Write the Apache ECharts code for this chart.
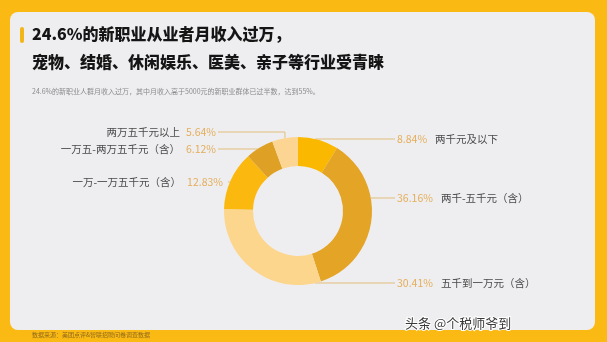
<!DOCTYPE html>
<html>
<head>
<meta charset="utf-8">
<script src="https://cdn.jsdelivr.net/npm/echarts@6/dist/echarts.min.js"></script>
<style>
html,body{margin:0;padding:0;background:#FBB914;}
#c{width:607px;height:342px;}
</style>
</head>
<body>
<div id="c"></div>
<script>
// ---- data ----
var categories = ['两千元及以下', '两千-五千元（含）', '五千到一万元（含）', '一万-一万五千元（含）', '一万五-两万五千元（含）', '两万五千元以上'];
var values = [8.84, 36.16, 30.41, 12.83, 6.12, 5.64];
var titleLines = ['24.6%的新职业从业者月收入过万，', '宠物、结婚、休闲娱乐、医美、亲子等行业受青睐'];
var subtitle = '24.6%的新职业人群月收入过万，其中月收入高于5000元的新职业群体已过半数，达到55%。';
var source = '数据来源：美团点评&智联招聘问卷调查数据';
var watermark = '头条 @个税师爷到';

// ---- layout / style ----
var CX = 298, CY = 211, R0 = 45, R1 = 74;
var colors = ['#FBB800', '#E4A426', '#FDD68E', '#FBB80E', '#DFA125', '#FDD592'];
var side = ['right', 'right', 'right', 'left', 'left', 'left'];
var labelY = [139, 198, 283, 182, 149, 132];
var lineEndX = [395, 395, 395, 228, 218, 218];
var textX = [397, 397, 397, 223, 216, 216];

var chart = echarts.init(document.getElementById('c'));
var FONT = '"Noto Sans CJK SC", "Noto Sans", sans-serif';

chart.setOption({
  backgroundColor: '#FBB914',
  animation: false,
  graphic: [
    { type: 'rect', shape: { x: 10, y: 12, width: 585, height: 318, r: 8 }, style: { fill: '#EEEEF1' }, z: -10 },
    { type: 'rect', shape: { x: 20, y: 27, width: 4, height: 16, r: 2 }, style: { fill: '#F3B61A' } },
    { type: 'text', style: { x: 32, y: 34, text: titleLines[0], font: '900 16px ' + FONT, fill: '#151515', verticalAlign: 'middle' } },
    { type: 'text', style: { x: 32, y: 62, text: titleLines[1], font: '900 16px ' + FONT, fill: '#151515', verticalAlign: 'middle' } },
    { type: 'text', style: { x: 32, y: 91, text: subtitle, font: '7px ' + FONT, fill: '#8a8a8a', verticalAlign: 'middle' } },
    { type: 'text', style: { x: 32, y: 335, text: source, font: '6px ' + FONT, fill: '#8f6a1c', verticalAlign: 'middle' } },
    { type: 'text', style: { x: 405, y: 323, text: watermark, font: '13px ' + FONT, fill: '#3a3a3a', stroke: '#ffffff', lineWidth: 2, verticalAlign: 'middle' } }
  ],
  series: [{
    type: 'pie',
    center: [CX, CY],
    radius: [R0, R1],
    startAngle: 90,
    clockwise: true,
    avoidLabelOverlap: false,
    data: categories.map(function (c, i) {
      return { name: c, value: values[i], itemStyle: { color: colors[i] } };
    }),
    label: {
      show: true,
      fontFamily: FONT,
      formatter: function (p) {
        var pct = p.value.toFixed(2) + '%';
        if (side[p.dataIndex] === 'right') return '{p|' + pct + '}{n|' + p.name + '}';
        return '{n|' + p.name + '}{q|' + pct + '}';
      },
      rich: {
        p: { fontSize: 10.5, color: '#E4AE5A', fontFamily: FONT, padding: [0, 8, 0, 0] },
        q: { fontSize: 10.5, color: '#E4AE5A', fontFamily: FONT, padding: [0, 0, 0, 6] },
        n: { fontSize: 10.5, color: '#4a4a4a', fontFamily: FONT }
      }
    },
    labelLine: { show: true, length: 10, length2: 10, lineStyle: { color: '#E2BD78', width: 1 } },
    labelLayout: function (params) {
      var i = params.dataIndex;
      var y = labelY[i];
      var right = side[i] === 'right';
      var dy = y - CY;
      var pts;
      if (Math.abs(dy) < R1) {
        var dx = Math.sqrt(R1 * R1 - dy * dy);
        var x0 = right ? CX + dx : CX - dx;
        pts = [[x0, y], [lineEndX[i], y]];
      } else {
        var p0 = params.labelLinePoints[0];
        pts = [[p0[0], p0[1]], [p0[0], y], [lineEndX[i], y]];
      }
      return {
        x: textX[i],
        y: y,
        align: right ? 'left' : 'right',
        verticalAlign: 'middle',
        labelLinePoints: pts
      };
    }
  }]
});
</script>
</body>
</html>
